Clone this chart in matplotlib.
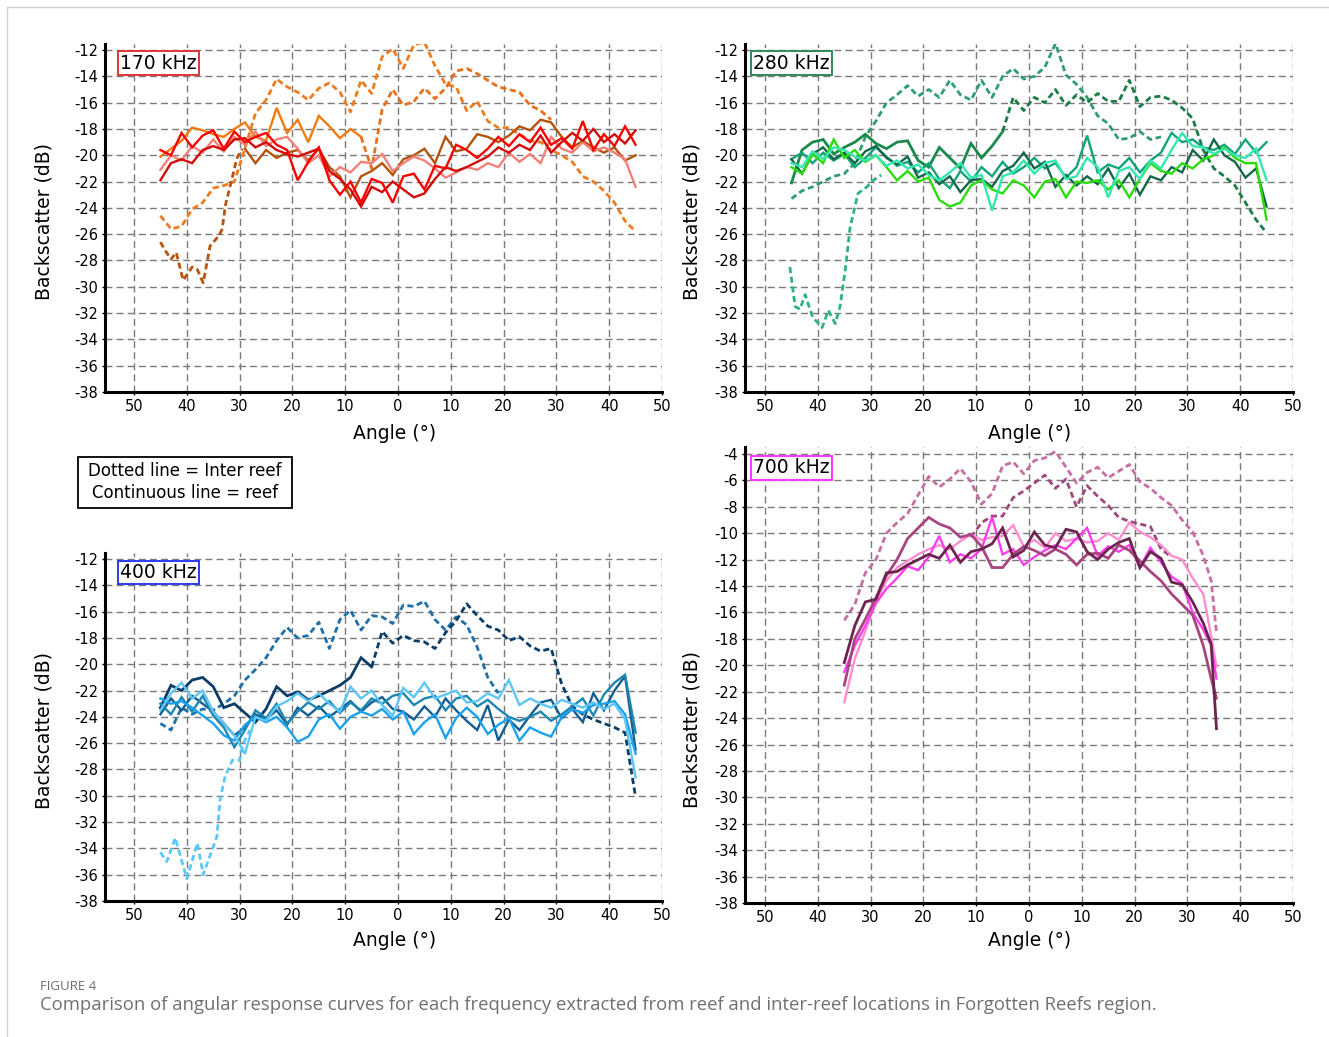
import matplotlib
matplotlib.use('Agg')
import matplotlib.pyplot as plt
from matplotlib.lines import Line2D
from matplotlib.patches import Rectangle

plt.rcParams['font.family'] = 'DejaVu Sans'
plt.rcParams['axes.unicode_minus'] = False

# angle sampling (degrees across swath)
ang = list(range(-45, 46, 2))
ang7 = list(range(-35, 34, 2)) + [34.5, 35.5]

# ---------------- 170 kHz ----------------
r170_red = [-19.6, -20.0, -18.3, -19.4, -18.5, -18.1, -19.5, -18.2, -19.0, -18.6,
            -18.3, -19.2, -19.6, -21.9, -20.5, -19.4, -21.9, -23.0, -22.0, -23.6,
            -21.8, -22.1, -23.6, -21.6, -21.4, -22.6, -20.8, -21.0, -19.2, -19.6,
            -20.2, -19.5, -18.6, -19.3, -18.4, -19.0, -17.9, -19.2, -18.7, -19.5,
            -17.4, -19.6, -18.4, -19.3, -17.8, -19.2]
r170_dark = [-21.9, -20.6, -20.3, -20.6, -19.6, -19.3, -19.6, -18.8, -18.7, -19.4,
             -19.0, -19.6, -19.9, -20.1, -19.8, -19.5, -21.2, -21.8, -22.6, -23.9,
             -22.4, -22.8, -22.0, -22.6, -23.2, -22.9, -21.8, -20.9, -21.2, -20.9,
             -20.5, -20.1, -19.4, -19.8, -19.2, -19.6, -18.5, -19.8, -19.0, -18.3,
             -18.9, -18.0, -19.0, -18.4, -19.1, -18.1]
r170_salmon = [-21.1, -20.0, -20.4, -19.3, -19.8, -18.8, -19.7, -18.6, -19.2, -18.2,
               -19.3, -18.8, -18.6, -19.5, -20.6, -20.0, -21.6, -20.9, -21.3, -20.5,
               -20.6, -19.9, -21.2, -20.6, -20.1, -20.4, -21.0, -21.7, -21.3, -20.9,
               -21.1, -20.6, -20.9, -19.8, -20.5, -19.9, -20.6, -18.6, -19.5, -19.8,
               -19.0, -19.7, -19.4, -19.8, -20.3, -22.4]
r170_orange = [-20.1, -19.5, -18.9, -17.9, -18.1, -18.4, -18.6, -18.0, -17.5, -18.6,
               -18.9, -16.4, -18.3, -17.3, -19.0, -17.0, -17.8, -18.7, -18.0, -18.6]
r170_brown = [-19.5, -20.6, -19.6, -20.2, -19.8, -19.6, -20.4, -19.5, -20.9, -21.6,
              -23.2, -21.6, -21.2, -20.6, -21.5, -20.3, -20.0, -19.5, -20.6, -18.6,
              -19.7, -19.5, -18.4, -18.6, -19.0, -18.5, -17.8, -18.1, -17.3, -17.5,
              -18.6, -19.4, -18.9, -19.4, -19.8, -19.4, -20.4, -20.0]
i170_orange_a = [-24.6, -25.6, -25.4, -24.1, -23.6, -22.5, -22.3, -22.0, -19.5, -16.8,
                 -15.8, -14.2, -14.8, -15.2, -15.8, -14.9, -14.5, -15.2, -16.7, -14.3,
                 -15.3, -12.5, -11.9, -13.4, -11.6, -11.4, -13.2, -14.6, -14.8, -16.6,
                 -15.9, -17.4, -17.9, -17.9, -18.4, -18.9, -19.0, -19.6, -20.0, -20.5,
                 -21.6, -22.0, -22.7, -23.6, -25.0, -25.8]
i170_orange_b = [-18.6, -21.0, -16.5, -15.0, -16.2, -15.9, -14.9, -15.7, -14.9, -13.6,
                 -13.4, -13.8, -14.3, -14.8, -15.0, -15.2, -16.2, -16.6, -17.3]
i170_brown_ang = [-45, -44, -43, -42, -40.7, -39, -38, -36.9, -35.6, -33.9, -33.3, -32.7, -31.4, -30.5, -29.5]
i170_brown = [-26.6, -27.3, -27.9, -27.4, -29.5, -28.5, -28.7, -29.7, -26.9, -26.1, -25.6, -23.8, -21.7, -20.2, -19.5]

# ---------------- 280 kHz ----------------
r280_green = [-22.1, -19.6, -19.0, -18.8, -19.9, -19.4, -19.0, -18.4, -19.1, -19.5,
              -19.0, -18.9, -20.4, -20.9, -19.4, -20.2, -21.0, -19.1, -20.2, -19.3, -18.2]
r280_darkteal = [-20.3, -21.4, -19.9, -19.4, -20.3, -19.8, -20.6, -19.7, -19.3, -20.2,
                 -20.7, -20.1, -21.7, -21.3, -22.2, -21.6, -22.8, -21.9, -21.8, -22.4,
                 -21.2, -20.8, -19.8, -21.0, -20.5, -22.4, -21.5, -22.3, -21.6, -22.2,
                 -21.0, -22.5, -21.4, -23.0, -21.6, -21.9, -20.9, -21.3, -19.6, -20.4,
                 -18.8, -20.0, -20.5, -21.7, -21.0, -23.9]
r280_lime = [-20.9, -21.4, -19.9, -20.6, -18.8, -20.2, -19.6, -20.5, -20.0, -20.9,
             -21.9, -21.2, -22.0, -21.7, -23.4, -23.9, -23.6, -22.3, -21.9, -22.6,
             -22.9, -21.9, -22.3, -23.2, -22.0, -21.8, -23.2, -22.0, -22.1, -21.9,
             -22.6, -21.9, -23.2, -21.8, -20.6, -21.2, -21.4, -20.6, -21.0, -20.3,
             -20.0, -19.4, -20.2, -20.6, -20.6, -24.9]
r280_aqua = [-20.6, -20.9, -19.7, -20.3, -19.4, -19.6, -20.1, -20.4, -20.0, -20.8,
             -20.4, -21.0, -20.7, -21.5, -21.9, -21.3, -20.6, -21.7, -21.5, -24.2,
             -21.6, -21.3, -20.4, -21.4, -20.6, -20.4, -21.8, -21.6, -20.2, -20.9,
             -23.2, -21.2, -20.9, -21.8, -20.4, -21.0, -19.6, -18.3, -19.3, -19.4,
             -19.9, -19.5, -20.0, -20.2, -19.5, -21.9]
r280_teal = [-20.3, -19.8, -20.6, -19.8, -20.4, -19.9, -20.9, -20.2, -19.4, -20.1,
             -20.8, -20.5, -21.3, -20.6, -21.8, -22.5, -21.2, -22.0, -20.9, -21.6,
             -20.5, -21.4, -20.9, -20.2, -21.0, -20.6, -21.7, -20.9, -18.5, -21.3,
             -20.7, -21.0, -20.2, -21.3, -20.4, -19.8, -18.3, -19.0, -18.8, -19.4,
             -19.6, -19.2, -19.9, -18.8, -19.8, -19.0]
i280_sea = [-23.3, -22.7, -22.4, -22.0, -21.6, -21.4, -20.6, -18.6, -17.4, -16.0,
            -15.4, -14.7, -15.5, -15.0, -15.6, -14.3, -15.4, -15.8, -14.3, -15.6,
            -14.0, -13.4, -14.2, -14.0, -13.3, -11.5, -13.9, -14.6, -15.6, -17.0,
            -17.6, -18.8, -18.7, -18.2, -18.8, -18.6]
i280_green = [-18.2, -15.6, -16.6, -15.6, -16.0, -15.0, -16.2, -15.4, -16.0, -15.3,
              -15.9, -15.9, -14.3, -16.3, -15.6, -15.5, -15.8, -16.4, -17.2, -19.6,
              -21.0, -21.6, -22.3, -23.6, -24.9, -25.9]
i280_deep_ang = [-45.3, -44.3, -43.4, -42.4, -41, -39.2, -38, -36.7, -35.8, -34.8, -33.9, -32.4, -30.7, -29.5, -28]
i280_deep = [-28.5, -31.5, -31.7, -30.6, -32.3, -33.1, -31.8, -32.8, -31.5, -28.7, -25.5, -22.9, -22.4, -21.9, -21.5]

# ---------------- 400 kHz ----------------
r400_navy = [-23.3, -21.6, -22.0, -21.2, -21.0, -21.7, -23.3, -23.0, -23.7, -24.4,
             -23.4, -21.7, -22.4, -22.1, -22.7, -22.4, -22.0, -21.6, -21.0, -19.5, -20.2]
r400_dark = [-23.8, -22.6, -23.5, -22.4, -23.0, -23.6, -24.5, -25.4, -24.8, -23.8,
             -24.2, -23.5, -24.6, -23.3, -23.9, -23.2, -24.0, -23.4, -22.8, -23.6,
             -22.9, -22.5, -23.4, -23.6, -24.2, -23.2, -24.0, -22.6, -23.5, -24.3,
             -25.0, -23.1, -25.8, -24.2, -25.0, -23.9, -22.9, -22.7, -24.1, -23.4,
             -24.4, -22.2, -23.5, -22.0, -20.9, -26.5]
r400_teal = [-23.0, -23.8, -22.5, -23.6, -22.4, -23.9, -24.8, -26.3, -25.0, -23.5,
             -24.1, -23.0, -24.5, -23.6, -22.9, -23.4, -22.8, -23.7, -22.9, -23.5,
             -22.6, -23.0, -22.4, -22.2, -23.1, -22.6, -22.4, -23.5, -22.6, -22.4,
             -23.2, -22.7, -23.4, -24.0, -24.3, -24.0, -23.6, -24.3, -23.8, -23.2,
             -22.6, -23.9, -22.3, -21.4, -20.8, -25.2]
r400_bright = [-22.6, -23.0, -22.8, -23.3, -23.9, -24.5, -25.4, -25.8, -24.6, -24.0,
               -24.4, -24.0, -24.8, -25.9, -25.5, -24.2, -23.8, -24.9, -24.0, -23.6,
               -23.9, -23.4, -24.2, -23.6, -25.3, -24.4, -23.8, -25.6, -24.1, -23.3,
               -24.0, -25.3, -24.6, -24.1, -25.8, -24.8, -25.2, -25.5, -24.0, -23.4,
               -23.7, -23.1, -23.0, -22.8, -23.8, -26.8]
r400_sky = [-23.5, -22.2, -21.4, -22.6, -22.0, -23.6, -24.5, -25.4, -26.8, -24.0,
            -24.3, -23.2, -22.8, -22.2, -22.8, -22.2, -23.0, -23.6, -21.7, -22.6,
            -22.0, -23.1, -23.9, -21.8, -22.5, -21.4, -22.6, -22.3, -22.0, -22.9,
            -22.8, -22.2, -22.6, -21.2, -23.1, -22.6, -23.0, -23.3, -22.7, -23.0,
            -23.3, -22.9, -23.4, -23.0, -24.2, -28.6]
i400_blue = [-24.5, -25.0, -23.3, -23.8, -23.4, -23.5, -23.0, -22.4, -21.2, -20.4,
             -19.5, -18.2, -17.2, -18.0, -17.8, -16.8, -18.8, -16.6, -15.9, -17.4,
             -16.3, -16.4, -16.9, -15.5, -15.6, -15.2, -16.6, -17.4, -16.4, -17.0,
             -18.7, -21.0, -22.2]
i400_navy = [-20.2, -17.5, -18.4, -17.8, -18.2, -18.3, -18.8, -17.6, -16.7, -15.4,
             -16.3, -17.1, -17.4, -18.2, -17.9, -18.6, -19.0, -18.8, -21.5, -23.2,
             -23.8, -24.2, -24.5, -24.8, -25.2, -30.1]
i400_sky_ang = [-45, -43.8, -42.2, -40, -38, -36.9, -34.3, -33.7, -32.8, -31.4, -30, -29.3, -28]
i400_sky = [-34.3, -35.0, -33.2, -36.3, -33.6, -36.0, -33.1, -30.3, -28.6, -27.3, -27.3, -26.0, -25.0]

# ---------------- 700 kHz ----------------
r700_plumdark = [-19.8, -17.0, -15.2, -15.0, -13.0, -12.9, -12.4, -12.0, -11.6, -11.9,
                 -10.9, -12.2, -11.4, -11.2, -10.8, -9.6, -11.8, -11.3, -9.9, -10.9,
                 -11.1, -9.7, -9.9, -11.4, -12.0, -11.2, -10.7, -10.4, -12.6, -11.4,
                 -11.9, -13.7, -13.9, -15.2, -16.8, -18.4, -24.8]
r700_plum = [-21.5, -18.0, -16.5, -14.9, -13.2, -12.0, -10.4, -9.6, -8.8, -9.3,
             -9.6, -10.3, -10.1, -11.0, -12.6, -12.6, -11.6, -11.0, -11.3, -11.7,
             -11.2, -11.6, -12.4, -11.6, -11.5, -11.9, -10.9, -11.3, -12.1, -12.9,
             -13.6, -14.6, -15.4, -16.2, -18.5, -21.0, -22.5]
r700_magenta = [-20.5, -18.5, -17.0, -15.3, -14.2, -13.4, -12.5, -12.8, -11.8, -10.2,
                -12.2, -11.6, -11.9, -11.2, -8.8, -11.6, -11.2, -12.4, -11.8, -11.3,
                -10.9, -11.2, -10.4, -9.6, -11.7, -11.0, -11.4, -10.9, -12.6, -11.1,
                -12.2, -13.3, -13.8, -16.0, -17.3, -18.5, -21.0]
r700_pink = [-22.8, -19.5, -17.4, -15.2, -13.6, -12.6, -12.1, -11.6, -11.2, -10.9,
             -11.2, -10.6, -10.1, -10.5, -10.3, -10.2, -9.4, -11.0, -10.5, -11.1,
             -10.0, -10.6, -10.4, -10.7, -10.6, -10.0, -10.5, -9.2, -9.9, -10.3,
             -10.9, -11.7, -12.0, -13.4, -14.6, -17.8, -20.1]
i700_mauve = [-16.6, -15.4, -13.0, -12.0, -10.0, -9.2, -8.5, -7.1, -5.7, -6.5,
              -5.9, -5.1, -6.1, -7.8, -7.0, -4.9, -4.6, -5.5, -4.5, -4.3,
              -3.8, -5.0, -6.2, -5.4, -5.0, -5.8, -5.3, -4.8, -6.1, -6.6,
              -7.3, -7.9, -9.0, -9.9, -11.7, -13.6, -17.5]
i700_plum = [-10.3, -9.2, -8.7, -8.7, -7.3, -6.8, -6.2, -5.6, -6.6, -5.9,
             -8.0, -6.4, -7.2, -7.9, -8.8, -9.1, -9.3, -9.5, -11.2, -11.8]

W, H = 1329, 1037
fig = plt.figure(figsize=(W / 100, H / 100), dpi=100)


def box(l, t, r, b):
    return [l / W, 1 - b / H, (r - l) / W, (b - t) / H]


def style(ax, xmin, ymin, ymax, yticks, name, edge, name_xy, xlab_y, ylab_xy):
    ax.set_xlim(xmin, 50)
    ax.set_ylim(ymin, ymax)
    xt = list(range(-50, 51, 10))
    ax.set_xticks(xt)
    ax.set_xticklabels([str(abs(t)) for t in xt])
    ax.set_yticks(yticks)
    ax.grid(True, color='#7a7a7a', linestyle=(0, (5, 3)), linewidth=1.0)
    ax.set_axisbelow(True)
    for s in ['top', 'right']:
        ax.spines[s].set_visible(False)
    for s in ['left', 'bottom']:
        ax.spines[s].set_linewidth(2.2)
    ax.tick_params(labelsize=10.5, length=2.5, width=1, pad=2.5)
    ax.set_xlabel('Angle (°)', fontsize=13.5)
    ax.set_ylabel('Backscatter (dB)', fontsize=13.5)
    ax.xaxis.set_label_coords(0.52, xlab_y)
    ax.yaxis.set_label_coords(ylab_xy[0], ylab_xy[1])
    ax.text(name_xy[0], name_xy[1], name, transform=ax.transAxes, fontsize=13.5,
            ha='left', va='center', zorder=10,
            bbox=dict(boxstyle='square,pad=0.12', fc='white', ec=edge, lw=1.4))


def reef(ax, x, y, c, lw=1.7):
    ax.plot(x, y, color=c, lw=lw, solid_joinstyle='miter')


def inter(ax, x, y, c, lw=2.0):
    ax.plot(x, y, color=c, lw=lw, linestyle=(0, (2.2, 1.3)))


ax170 = fig.add_axes(box(105, 43.5, 662, 392))
ax280 = fig.add_axes(box(745, 43.5, 1293, 392))
ax400 = fig.add_axes(box(105, 552.5, 662, 901))
ax700 = fig.add_axes(box(745, 447.4, 1293, 903))

yt_a = list(range(-38, -11, 2))
yt_b = list(range(-38, -3, 2))

# 170 kHz
inter(ax170, ang, i170_orange_a, '#EE7C1E')
inter(ax170, i170_brown_ang, i170_brown, '#B8540E')
inter(ax170, ang[19:38], i170_orange_b, '#E8701A')
reef(ax170, ang[:20], r170_orange, '#F47A12')
reef(ax170, ang[8:], r170_brown, '#B4540C')
reef(ax170, ang, r170_salmon, '#F4807A')
reef(ax170, ang, r170_dark, '#D20A0A')
reef(ax170, ang, r170_red, '#FF0000')
style(ax170, -55.5, -38, -11.5, yt_a, '170 kHz', '#E03535', (0.027, 0.944), -0.092, (-0.093, 0.49))

# 280 kHz
inter(ax280, i280_deep_ang, i280_deep, '#2DB383')
inter(ax280, ang[:36], i280_sea, '#2E9E70')
inter(ax280, ang[20:], i280_green, '#1C7C48')
reef(ax280, ang[:21], r280_green, '#1A8A4C', lw=2.0)
reef(ax280, ang, r280_teal, '#12A57A')
reef(ax280, ang, r280_darkteal, '#14684A')
reef(ax280, ang, r280_lime, '#2ADC0C')
reef(ax280, ang, r280_aqua, '#33E8B0')
style(ax280, -53.8, -38, -11.5, yt_a, '280 kHz', '#2E8B57', (0.015, 0.944), -0.092, (-0.080, 0.49))

# 400 kHz
inter(ax400, i400_sky_ang, i400_sky, '#5AC8F8')
inter(ax400, ang[:33], i400_blue, '#1F6FA8')
inter(ax400, ang[20:], i400_navy, '#0B3D66')
reef(ax400, ang[:21], r400_navy, '#0B3D66', lw=2.0)
reef(ax400, ang, r400_dark, '#135E90')
reef(ax400, ang, r400_teal, '#1C88B2')
reef(ax400, ang, r400_bright, '#1AA2EE')
reef(ax400, ang, r400_sky, '#5EC6F6')
style(ax400, -55.5, -38, -11.5, yt_a, '400 kHz', '#2B3BF0', (0.027, 0.943), -0.086, (-0.093, 0.49))

# 700 kHz
inter(ax700, ang7, i700_mauve, '#C56FA4')
inter(ax700, ang7[12:32], i700_plum, '#A0467E')
reef(ax700, ang7, r700_pink, '#FF8DCF')
reef(ax700, ang7, r700_magenta, '#FF3CF0')
reef(ax700, ang7, r700_plum, '#A8457F', lw=2.0)
reef(ax700, ang7, r700_plumdark, '#6B2550', lw=2.0)
style(ax700, -53.8, -38, -3.5, yt_b, '700 kHz', '#FF33FF', (0.015, 0.955), -0.062, (-0.080, 0.38))

# legend box for line styles
fig.add_artist(Rectangle((78 / W, 1 - 508 / H), 214 / W, 51 / H, transform=fig.transFigure,
                         fill=False, ec='black', lw=1.3))
fig.text(185 / W, 1 - 471 / H, 'Dotted line = Inter reef', ha='center', va='center', fontsize=12)
fig.text(185 / W, 1 - 493 / H, 'Continuous line = reef', ha='center', va='center', fontsize=12)

# page frame and caption
fig.add_artist(Line2D([7 / W, 1], [1 - 7 / H, 1 - 7 / H], transform=fig.transFigure, color='#d0d0d0', lw=1))
fig.add_artist(Line2D([7 / W, 7 / W], [0, 1 - 7 / H], transform=fig.transFigure, color='#d0d0d0', lw=1))
fig.text(40 / W, 1 - 986 / H, 'FIGURE 4', fontsize=9.5, color='#6e6e6e', va='center', family='Open Sans')
fig.text(40 / W, 1 - 1005 / H,
         'Comparison of angular response curves for each frequency extracted from reef and '
         'inter-reef locations in Forgotten Reefs region.',
         fontsize=13.3, color='#707070', va='center', family='Open Sans')

fig.savefig('out.png', dpi=100)
